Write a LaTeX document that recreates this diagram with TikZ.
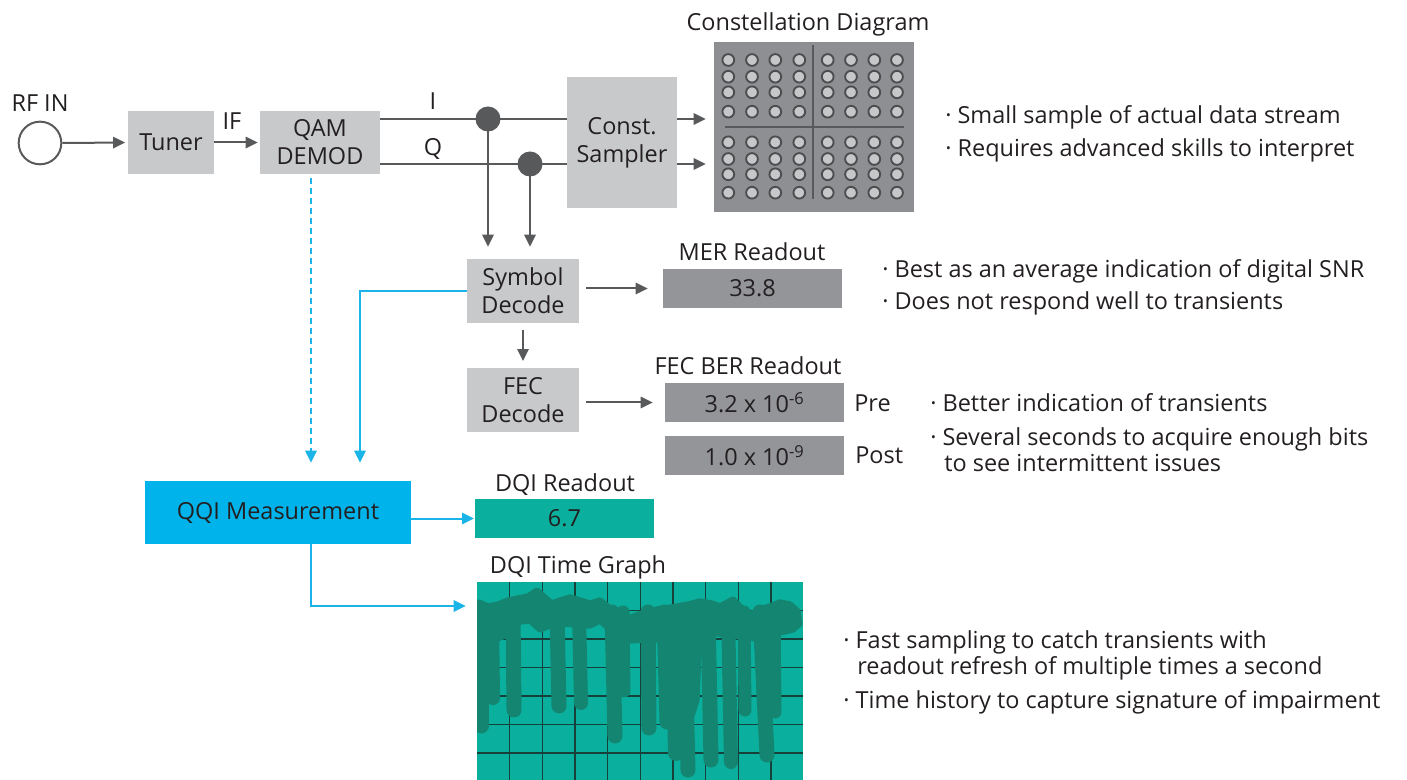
\documentclass[tikz,border=0pt]{standalone}
\usepackage{fontspec}
\setmainfont{Open Sans}
\usetikzlibrary{arrows.meta}

\definecolor{ink}{HTML}{231F20}
\definecolor{boxgray}{HTML}{C8C9CB}
\definecolor{readgray}{HTML}{939598}
\definecolor{panelgray}{HTML}{8E8F92}
\definecolor{linegray}{HTML}{58595B}
\definecolor{dotgray}{HTML}{C6C7C9}
\definecolor{dotedge}{HTML}{4D4D4F}
\definecolor{qqicyan}{HTML}{00B4EB}
\definecolor{linkcyan}{HTML}{1AB4E8}
\definecolor{dqiteal}{HTML}{0AB09D}
\definecolor{wavegreen}{HTML}{138570}
\definecolor{gridline}{HTML}{17403A}

\begin{document}
\begin{tikzpicture}[x=0.75pt,y=-0.75pt,
  every node/.style={font=\fontsize{17.6}{21}\selectfont, text=ink},
  lbl/.style={inner sep=0pt, text height=12.6pt, text depth=0pt},
  bul/.style={lbl, anchor=west},
  blk/.style={fill=boxgray, inner sep=0pt, align=center},
  readout/.style={fill=readgray, inner sep=0pt, minimum width=134.25pt, minimum height=29.25pt},
  conn/.style={draw=linegray, line width=1.5pt},
  arr/.style={conn, -{Triangle[length=9pt,width=8.5pt]}},
  carr/.style={draw=linkcyan, line width=1.5pt, -{Triangle[length=9pt,width=8.5pt]}},
  jdot/.style={circle, fill=linegray, minimum size=18.75pt, inner sep=0pt},
  cpt/.style={fill=dotgray, draw=dotedge, line width=1.4pt},
  wave/.style={draw=wavegreen, line cap=round, line join=round},
]
\useasboundingbox (0,0) rectangle (1407,780);

% ---- reference levels for the I/Q rails and the cyan routes
\coordinate (ilev) at (0,119);
\coordinate (qlev) at (0,164);
\coordinate (dashx) at (311,0);
\coordinate (symx) at (360,0);
\coordinate (gy) at (0,606);

% ---- front end
\node[lbl] (rflabel) at (40,103) {RF IN};
\node[circle, draw=linegray, line width=1.5pt, minimum size=32pt, inner sep=0pt] (rfin) at (40,143) {};
\node[blk, minimum width=64.5pt, minimum height=47.25pt] (tuner) at (171,142.5) {Tuner};
\node[blk, minimum width=90pt, minimum height=47.25pt] (qam) at (320,142.5) {QAM\\DEMOD};
\node[lbl] (iflabel) at (232,121) {IF};
\draw[arr, shorten >=2pt] (rfin.east) -- (tuner.west);
\draw[arr, shorten >=1.5pt] (tuner.east) -- (qam.west);

% ---- I and Q rails
\node[blk, minimum width=82.5pt, minimum height=98.25pt] (csamp) at (622,142.5) {Const.\\Sampler};
\draw[conn] (qam.east |- ilev) -- (csamp.west |- ilev);
\draw[conn] (qam.east |- qlev) -- (csamp.west |- qlev);
\node[lbl] (ilabel) at (433,101) {I};
\node[lbl] (qlabel) at (433,147) {Q};

% ---- constellation panel
\node[fill=panelgray, inner sep=0pt, minimum width=150pt, minimum height=127.5pt] (const) at (814,127) {};
\node[lbl] (consttitle) at (808,22) {Constellation Diagram};
\draw[linegray, line width=1.5pt] (813.3,45) -- (813.3,199);
\draw[linegray, line width=1.5pt] (725,127.3) -- (904,127.3);
\foreach \cx in {728.3,752,775.3,799.3,827.7,851,874.3,897}
  \foreach \cy in {60,76.7,92.3,111.7,142.3,159,174.3,192.7}
    \draw[cpt] (\cx,\cy) circle[radius=4.4pt];
\draw[arr, shorten >=6pt] (csamp.east |- ilev) -- (const.west |- ilev);
\draw[arr, shorten >=6pt] (csamp.east |- qlev) -- (const.west |- qlev);
\node[bul] (cb1) at (945,115) {· Small sample of actual data stream};
\node[bul] (cb2) at (945,148) {· Requires advanced skills to interpret};

% ---- decoders
\node[blk, minimum width=84pt, minimum height=48pt] (sym) at (523,291) {Symbol\\Decode};
\node[blk, minimum width=84pt, minimum height=48pt] (fec) at (523,400) {FEC\\Decode};
\node[jdot] (idot) at (488,119) {};
\node[jdot] (qdot) at (530,164) {};
\draw[arr, shorten >=9pt] (idot.center) -- (idot |- sym.north);
\draw[arr, shorten >=9pt] (qdot.center) -- (qdot |- sym.north);
\draw[arr, shorten <=5pt, shorten >=5pt] (sym.south) -- (fec.north);

% ---- MER readout
\node[readout] (mer) at (752.5,288.5) {33.8};
\node[lbl] (mertitle) at (752,252) {MER Readout};
\draw[arr, shorten <=5.25pt, shorten >=11.25pt] (sym.east |- mer.west) -- (mer.west);
\node[bul] (mb1) at (882,269) {· Best as an average indication of digital SNR};
\node[bul] (mb2) at (882,301) {· Does not respond well to transients};

% ---- FEC BER readout
\node[readout] (pre) at (754.5,402.5) {3.2 x 10\textsuperscript{-6}};
\node[readout] (post) at (754.5,455.5) {1.0 x 10\textsuperscript{-9}};
\node[lbl] (fectitle) at (748,366) {FEC BER Readout};
\draw[arr, shorten <=5.25pt, shorten >=9pt] (fec.east |- pre.west) -- (pre.west);
\node[bul] (prelabel) at (854,403) {Pre};
\node[bul] (postlabel) at (855,455) {Post};
\node[bul] (fb1) at (930,403) {· Better indication of transients};
\node[bul] (fb2) at (930,437) {· Several seconds to acquire enough bits};
\node[bul] (fb3) at (944,463) {to see intermittent issues};

% ---- QQI measurement
\node[fill=qqicyan, inner sep=0pt, minimum width=199.5pt, minimum height=47.25pt] (qqi) at (278,512.5) {QQI Measurement};
\draw[carr, dash pattern=on 4.5pt off 3pt, shorten <=3pt, shorten >=13.5pt] (qam.south -| dashx) -- (qqi.north -| dashx);
\draw[carr, shorten >=13.5pt] (sym.west) -| (qqi.north -| symx);

% ---- DQI readout
\node[fill=dqiteal, inner sep=0pt, minimum width=134.25pt, minimum height=29.25pt] (dqi) at (564.5,518.5) {6.7};
\node[lbl] (dqititle) at (565,483) {DQI Readout};
\draw[carr, shorten >=0.5pt] (qqi.east |- dqi.west) -- (dqi.west);

% ---- DQI time graph
\node[fill=dqiteal, inner sep=0pt, minimum width=244.5pt, minimum height=148.5pt] (graph) at (640,681) {};
\node[lbl] (graphtitle) at (578,565) {DQI Time Graph};
\begin{scope}
  \clip (477,582) rectangle (803,780);
  \foreach \k in {1,...,9}
    \draw[gridline, line width=1.1pt] ({477+32.67*\k},582) -- ({477+32.67*\k},780);
  \foreach \k in {1,...,6}
    \draw[gridline, line width=1.1pt] (477,{582+28.5*\k}) -- (803,{582+28.5*\k});
  % upper band of the trace
  \filldraw[wave, fill=wavegreen, line width=4pt]
    (479,602) -- (488,606) -- (498,604) -- (508,600) -- (518,598) -- (528,596) -- (537,590)
    -- (545,597) -- (552,603) -- (560,600) -- (570,597) -- (580,600) -- (590,603) -- (600,600)
    -- (608,606) -- (616,622) -- (628,618) -- (642,613) -- (657,609) -- (672,607) -- (688,604)
    -- (700,601) -- (712,603) -- (720,606) -- (733,599) -- (740,606) -- (750,614) -- (760,609)
    -- (770,606) -- (780,602) -- (790,604) -- (798,611) -- (800,624)
    -- (793,630) -- (780,633) -- (770,638) -- (758,640) -- (745,636) -- (730,637) -- (715,633)
    -- (700,630) -- (688,636) -- (672,636) -- (658,640) -- (644,640) -- (630,641) -- (620,637)
    -- (610,630) -- (600,621) -- (590,626) -- (575,625) -- (565,624) -- (550,626) -- (540,630)
    -- (530,621) -- (520,622) -- (505,636) -- (495,640) -- (485,645) -- (479,645) -- cycle;
  % broad dropout in the middle of the trace
  \filldraw[wave, fill=wavegreen, line width=4pt]
    (660,625) -- (700,625) -- (697,700) -- (690,722) -- (676,730) -- (664,715) -- cycle;
  % dropouts of the trace
  \foreach \xa/\xb/\yb/\w in {481/481/726/11.25, 492/493/698/10.5, 513/514/710/11.25,
      557/559/706/11.25, 579/581/703/10.5, 612/615/736/11.25, 623/624/691/9.75,
      648/649/728/11.25, 664/667/722/11.25, 673/676/753/12, 684/688/770/11.25,
      708/711/760/11.25, 728/731/762/10.5, 744/745/710/9.75, 760/767/755/11.25, 774/775/712/9.75}
    \draw[wave, line width=\w pt] (\xa,612) -- (\xb,\yb);
\end{scope}
\draw[carr, shorten >=8.25pt] (qqi.south -| dashx) |- (graph.west |- gy);
\node[bul] (gb1) at (843,640) {· Fast sampling to catch transients with};
\node[bul] (gb2) at (857,666) {readout refresh of multiple times a second};
\node[bul] (gb3) at (843,700) {· Time history to capture signature of impairment};
\end{tikzpicture}
\end{document}
